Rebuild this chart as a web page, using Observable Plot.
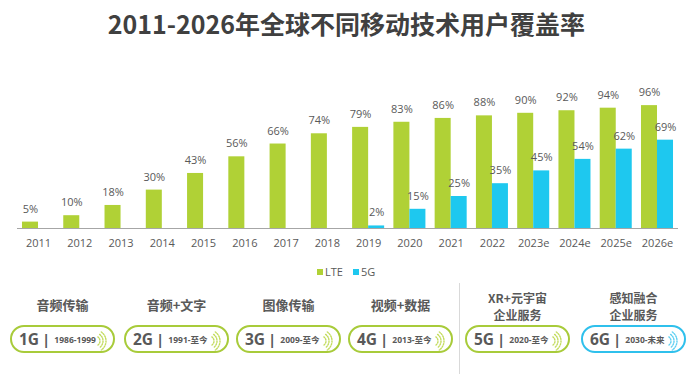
<!DOCTYPE html>
<html>
<head>
<meta charset="utf-8">
<script src="https://cdn.jsdelivr.net/npm/d3@7"></script>
<script src="https://cdn.jsdelivr.net/npm/@observablehq/plot@0.6"></script>
<style>
  html, body { margin: 0; padding: 0; background: #fff; }
  #wrap { position: relative; width: 693px; height: 374px; overflow: hidden; background: #fff;
          font-family: 'Open Sans', 'Noto Sans CJK SC', sans-serif; color: #595959; }
  #title { position: absolute; left: 0; top: 0; width: 693px; height: 46px; line-height: 46px;
           text-align: center; font-family: 'Noto Sans CJK SC', sans-serif; font-weight: bold;
           font-size: 25px; color: #404040; }
  #chart { position: absolute; left: 0; top: 46px; }
  #legend { position: absolute; top: 264px; left: 0; width: 693px; height: 16px; font-size: 11px; }
  .lg { position: absolute; top: 0; line-height: 16px; }
  .sw { display: inline-block; width: 6px; height: 6px; margin-right: 2px; vertical-align: 1px; }
  .hdr { position: absolute; font-family: 'Noto Sans CJK SC', sans-serif; font-weight: bold;
         font-size: 13px; color: #595959; text-align: center; }
  .hdr div { height: 15px; line-height: 15px; }
  .hdr.two { font-size: 12px; }
  .hdr.two div { height: 17.5px; line-height: 17.5px; }
  .pill { position: absolute; top: 325px; height: 28px; box-sizing: border-box; border-radius: 14px;
          border: 2.5px solid #a8cb3a; background: #fff; display: flex; align-items: center;
          padding-left: 7px; white-space: nowrap; }
  .gen { font-family: 'Open Sans', sans-serif; font-weight: bold; font-size: 15.5px; color: #595959; }
  .bar { font-family: 'Open Sans', sans-serif; font-weight: bold; font-size: 15px; color: #595959; margin: 0 4px 0 3px; }
  .per { font-family: 'Open Sans', 'Noto Sans CJK SC', sans-serif; font-weight: bold; font-size: 8.5px; color: #595959; }
  .arcs { position: absolute; right: 6px; top: 3px; }
  #sep { position: absolute; left: 459px; top: 283px; width: 1px; height: 91px; background: #d9d9d9; }
</style>
</head>
<body>
<div id="wrap">
  <div id="title"></div>
  <div id="chart"></div>
  <div id="legend"></div>
  <div id="sep"></div>
</div>
<script>
const titleText = "2011-2026年全球不同移动技术用户覆盖率";
const years = ["2011","2012","2013","2014","2015","2016","2017","2018","2019","2020","2021","2022","2023e","2024e","2025e","2026e"];
const lteValues = [5,10,18,30,43,56,66,74,79,83,86,88,90,92,94,96];
const g5Values = [null,null,null,null,null,null,null,null,2,15,25,35,45,54,62,69];
const seriesNames = ["LTE","5G"];
const seriesColors = ["#b0d136","#1ec8ef"];

const genLabels = ["1G","2G","3G","4G","5G","6G"];
const genPeriods = ["1986-1999","1991-至今","2009-至今","2013-至今","2020-至今","2030-未来"];
const genHeaders = [["音频传输"],["音频+文字"],["图像传输"],["视频+数据"],["XR+元宇宙","企业服务"],["感知融合","企业服务"]];

document.getElementById("title").textContent = titleText;

const lteRows = years.map((y, i) => ({year: y, v: lteValues[i]}));
const g5Rows = years.map((y, i) => ({year: y, v: g5Values[i]})).filter(d => d.v != null);

const chart = Plot.plot({
  width: 693,
  height: 215,
  marginLeft: 17,
  marginRight: 15,
  marginTop: 54,
  marginBottom: 33,
  style: {fontFamily: "'Open Sans', sans-serif", fontSize: "11px", color: "#595959", background: "transparent"},
  x: {domain: years, paddingInner: 0.224, paddingOuter: 0.121, round: false, tickSize: 0, tickPadding: 11, label: null},
  y: {domain: [0, 100], axis: null},
  marks: [
    Plot.barY(lteRows, {x: "year", y: "v", fill: seriesColors[0], insetRight: 16}),
    Plot.barY(g5Rows, {x: "year", y: "v", fill: seriesColors[1], insetLeft: 16}),
    Plot.ruleY([0], {stroke: "#a6a6a6", strokeWidth: 1}),
    Plot.text(lteRows, {x: "year", y: "v", text: d => d.v + "%", dx: -8, dy: -13, fill: "#595959", fontSize: 11}),
    Plot.text(g5Rows, {x: "year", y: "v", text: d => d.v + "%", dx: 8, dy: -13, fill: "#595959", fontSize: 11})
  ]
});
document.getElementById("chart").appendChild(chart);

// legend
const legend = document.getElementById("legend");
const lgX = [317, 353];
seriesNames.forEach((s, i) => {
  const d = document.createElement("div");
  d.className = "lg";
  d.style.left = lgX[i] + "px";
  d.innerHTML = `<span class="sw" style="background:${seriesColors[i]}"></span>${s}`;
  legend.appendChild(d);
});

// bottom generation pills
const wrap = document.getElementById("wrap");
const pillX = [10, 124, 236, 348, 465, 581];
const pillW = 105;
const pillBorder = ["#a8cb3a","#a8cb3a","#a8cb3a","#a8cb3a","#a8cb3a","#2fc0ec"];
const arcColor = ["#c3dc5e","#c3dc5e","#c3dc5e","#c3dc5e","#c3dc5e","#5fd0f2"];
function arcPath(r) {
  const a = 55 * Math.PI / 180;
  const cx = 0, cy = 11;
  const x0 = cx + r * Math.cos(-a), y0 = cy + r * Math.sin(-a);
  const x1 = cx + r * Math.cos(a), y1 = cy + r * Math.sin(a);
  return `M${x0},${y0} A${r},${r} 0 0 1 ${x1},${y1}`;
}
genLabels.forEach((g, i) => {
  const h = document.createElement("div");
  const lines = genHeaders[i];
  h.className = lines.length === 1 ? "hdr" : "hdr two";
  h.style.left = pillX[i] + "px";
  h.style.width = pillW + "px";
  h.style.top = (lines.length === 1 ? 297 : 288.5) + "px";
  h.innerHTML = lines.map(l => `<div>${l}</div>`).join("");
  wrap.appendChild(h);

  const p = document.createElement("div");
  p.className = "pill";
  p.style.left = pillX[i] + "px";
  p.style.width = pillW + "px";
  p.style.borderColor = pillBorder[i];
  const arcs = [5, 8, 11].map(r => `<path d="${arcPath(r)}" fill="none" stroke="${arcColor[i]}" stroke-width="1.4" stroke-dasharray="1.2 1.4" stroke-linecap="round"/>`).join("");
  p.innerHTML = `<span class="gen">${g}</span><span class="bar">|</span><span class="per">${genPeriods[i]}</span>` +
    `<svg class="arcs" width="14" height="22" viewBox="-2 0 14 22">${arcs}</svg>`;
  wrap.appendChild(p);
});
</script>
</body>
</html>
